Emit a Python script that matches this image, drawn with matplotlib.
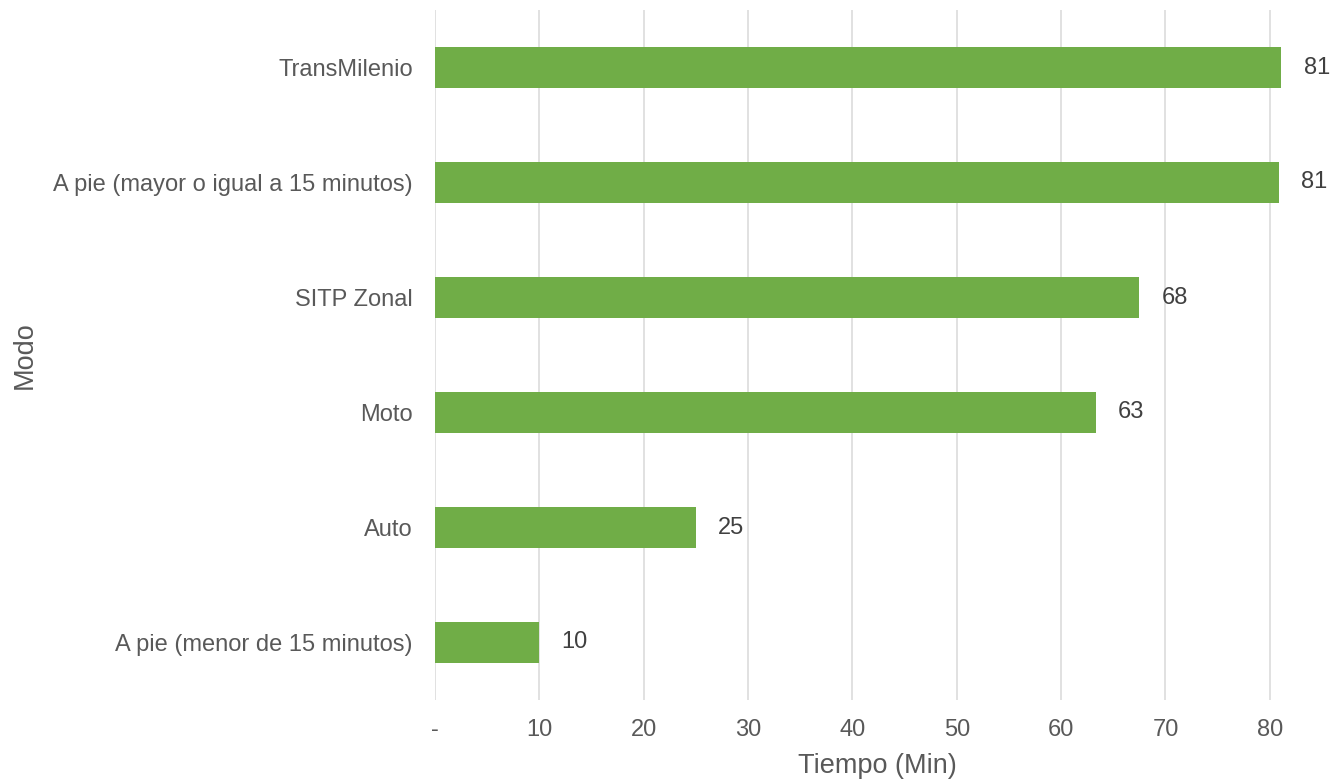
import matplotlib.pyplot as plt

plt.rcParams['font.family'] = ['Liberation Sans', 'DejaVu Sans']

modos = ['A pie (menor de 15 minutos)', 'Auto', 'Moto', 'SITP Zonal',
         'A pie (mayor o igual a 15 minutos)', 'TransMilenio']
tiempos = [10.0, 25.0, 63.3, 67.5, 80.9, 81.1]
etiquetas = ['10', '25', '63', '68', '81', '81']

xticks = [0, 10, 20, 30, 40, 50, 60, 70, 80]
xticklabels = ['-', '10', '20', '30', '40', '50', '60', '70', '80']

gris = '#595959'

fig = plt.figure(figsize=(13.32, 7.82), dpi=100)
ax = fig.add_axes([435/1332, 82/782, 887/1332, 690/782])

pos = range(len(modos))
ax.barh(pos, tiempos, height=0.35, color='#70ad47', zorder=3)

# etiquetas de valor al final de cada barra
for p, t, lab in zip(pos, tiempos, etiquetas):
    ax.annotate(lab, (t, p), xytext=(16, 0), textcoords='offset points',
                va='center', ha='left', fontsize=17, color='#404040')

ax.set_ylim(-0.5, len(modos) - 0.5)
ax.set_xlim(0, 85)
ax.set_yticks(list(pos))
ax.set_yticklabels(modos, fontsize=17, color=gris)
ax.set_xticks(xticks)
ax.set_xticklabels(xticklabels, fontsize=17, color=gris)
ax.tick_params(axis='both', length=0)
ax.tick_params(axis='y', pad=16)
ax.tick_params(axis='x', pad=14)

ax.grid(axis='x', color='#d9d9d9', linewidth=1.1, zorder=0)
for s in ax.spines.values():
    s.set_visible(False)

fig.text(877/1332, 1 - 766/782, 'Tiempo (Min)', fontsize=19.5,
         color=gris, ha='center', va='center')
fig.text(25/1332, 1 - 355/782, 'Modo', rotation=90, fontsize=19.5,
         color=gris, ha='center', va='center')

fig.savefig('out.png', dpi=100, facecolor='white')
